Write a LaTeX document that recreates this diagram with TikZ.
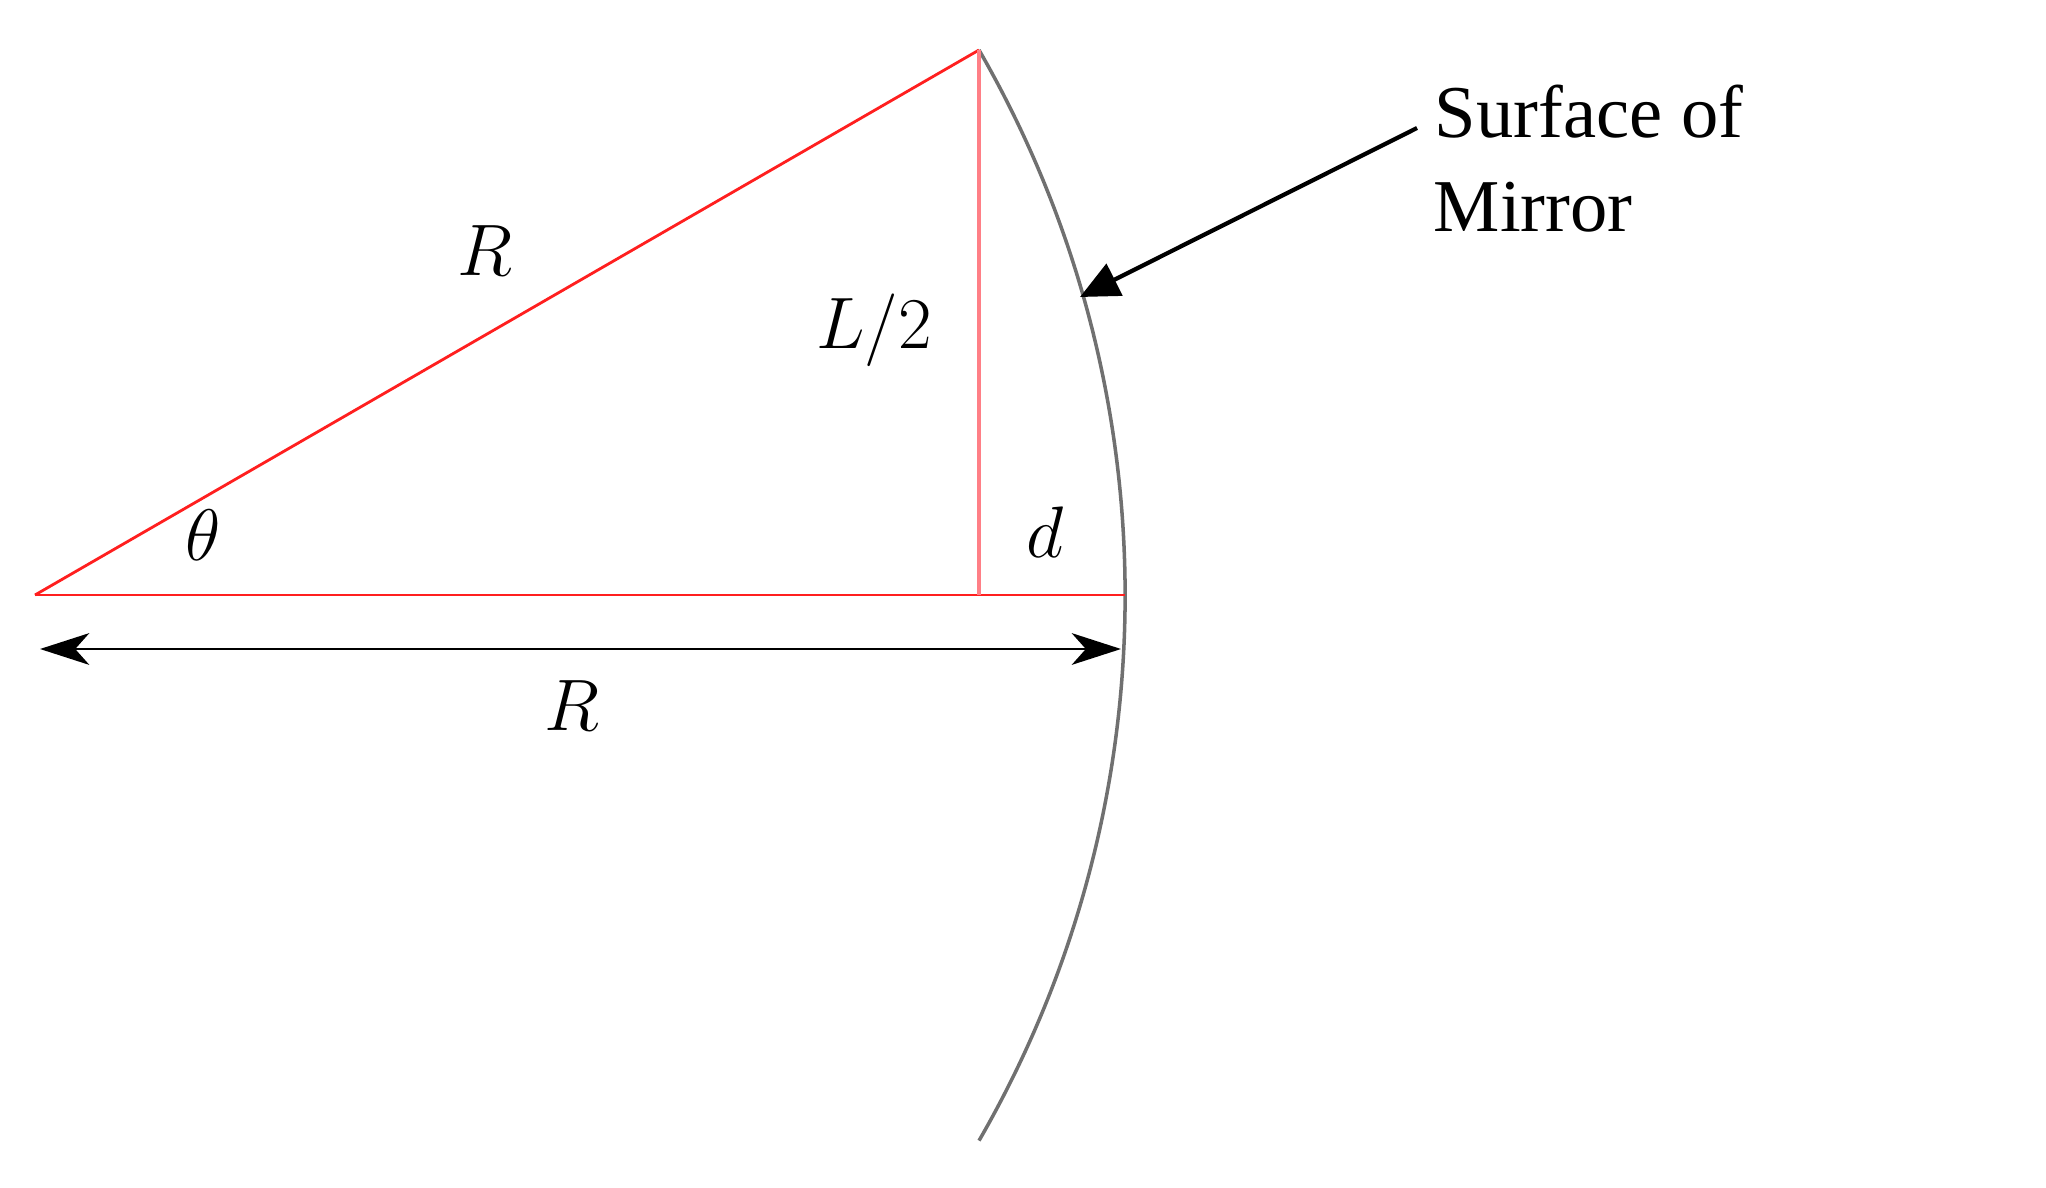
\documentclass[tikz,border=0pt]{standalone}
\usepackage{fontspec}
\newfontfamily\labelfont{Liberation Serif}
\usetikzlibrary{arrows.meta}
\definecolor{redline}{HTML}{FF1F1F}
\definecolor{pinkline}{HTML}{FF7F86}
\definecolor{mirrorgray}{HTML}{707070}
\begin{document}
\begin{tikzpicture}[x=0.01cm,y=0.01cm,
  redseg/.style={draw=redline,line width=0.8pt},
  pinkseg/.style={draw=pinkline,line width=0.9pt},
  mirror/.style={draw=mirrorgray,line width=1.0pt},
  dimarrow/.style={draw=black,line width=0.8pt,{Stealth[length=14pt,width=9pt,inset=4pt]}-{Stealth[length=14pt,width=9pt,inset=4pt]}},
  pointer/.style={draw=black,line width=1.2pt,-{Triangle[length=11pt,width=10pt]}},
  mathlbl/.style={inner sep=0pt,font=\fontsize{21.5}{26}\selectfont},
  textlbl/.style={inner sep=0pt,anchor=base west,font=\labelfont\fontsize{21.2}{26}\selectfont}]
\useasboundingbox (0,0) rectangle (2046,1187);
% geometry
\coordinate (O) at (35,592);
\coordinate (A) at (979,1137);
\coordinate (F) at (979,592);
\coordinate (E) at (1125,592);
% mirror arc centred on O
\draw[mirror] (A) arc[start angle=30,end angle=-30,radius=10.9cm];
% triangle
\draw[redseg] (O) -- (A);
\draw[redseg] (O) -- (E);
\draw[pinkseg] (F) -- (A);
% dimension arrow
\coordinate (DL) at (40,538);
\coordinate (DR) at (1121,538);
\draw[dimarrow] (DL) -- (DR);
% labels
\node[mathlbl] (Rtop) at (485,936) {$R$};
\node[mathlbl] (Lhalf) at (874,857) {$L/2$};
\node[mathlbl] (theta) at (203,652) {$\theta$};
\node[mathlbl] (dlbl) at (1045,655) {$d$};
\node[mathlbl] (Rbot) at (572,481) {$R$};
% mirror label
\node[textlbl] (surf) at (1434,1049) {Surface of};
\node[textlbl] (mirr) at (1433,955) {Mirror};
\coordinate (Pstart) at (1417,1059);
\coordinate (Ptip) at (1080,890);
\draw[pointer] (Pstart) -- (Ptip);
\end{tikzpicture}
\end{document}
